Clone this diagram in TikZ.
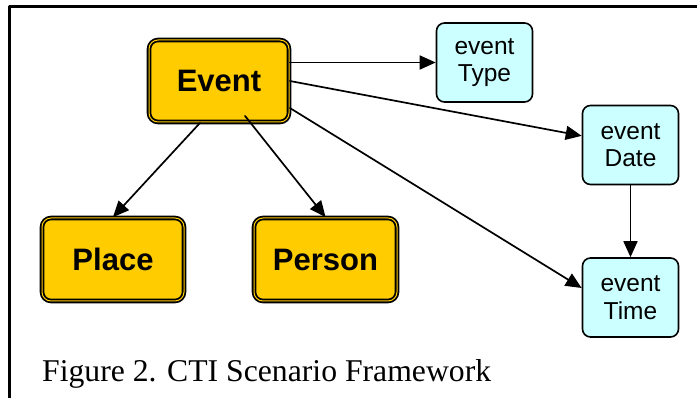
\documentclass[tikz,border=0pt]{standalone}
\usepackage{fontspec}
\setmainfont{Liberation Serif}
\setsansfont{Liberation Sans}
\usetikzlibrary{arrows.meta}
\definecolor{gold}{HTML}{FFCC00}
\definecolor{paleCyan}{HTML}{CCFFFF}
\begin{document}
\begin{tikzpicture}[x=1pt,y=-1pt,line join = round, line cap = round,>={Triangle[length=16pt,width=14pt]},
	main/.style={draw,line width=1.8pt,double=gold,double distance=1pt,fill=gold,rounded corners=9pt,inner sep=0pt,font=\sffamily\bfseries\fontsize{31}{34}\selectfont},
	attr/.style={draw,line width=1.6pt,fill=paleCyan,rounded corners=8pt,inner sep=0pt,minimum width=96pt,minimum height=79pt,align=center,font=\sffamily\fontsize{24.5}{27.5}\selectfont},
	link/.style={->,line width=1.7pt}]
			\useasboundingbox (0,0) rectangle (697,398);
			\draw[line width=2.2pt,line cap=butt] (697,6.5)--(9.5,6.5)--(9.5,398);
			\node[main,minimum width=140pt,minimum height=82pt] (ev) at (219,81) {Event};
			\node[main,minimum width=142pt,minimum height=83pt] (pl) at (113,259.5) {Place};
			\node[main,minimum width=143pt,minimum height=83pt] (ps) at (325.5,259.5) {Person};
			\node[attr] (ty) at (484.5,62.5) {event\\Type};
			\node[attr] (dt) at (630.5,145) {event\\Date};
			\node[attr] (tm) at (630.5,297.5) {event\\Time};
			\draw[link] (ev.east |- ty.west)--(ty.west);
			\draw[link] (ev.east)--(dt);
			\draw[link] ([yshift=-27pt]ev.east)--([yshift=9.5pt]tm.west);
			\draw[link] ([xshift=-19pt]ev.south)--(pl.north);
			\draw[link] ([xshift=26pt,yshift=7pt]ev.south)--(ps.north);
			\draw[link] (dt)--(tm);
			\node[anchor=base west,inner sep=0pt,font=\fontsize{31.7}{34}\selectfont] (cap) at (42,382) {Figure 2. CTI Scenario Framework};
		\end{tikzpicture}
\end{document}
